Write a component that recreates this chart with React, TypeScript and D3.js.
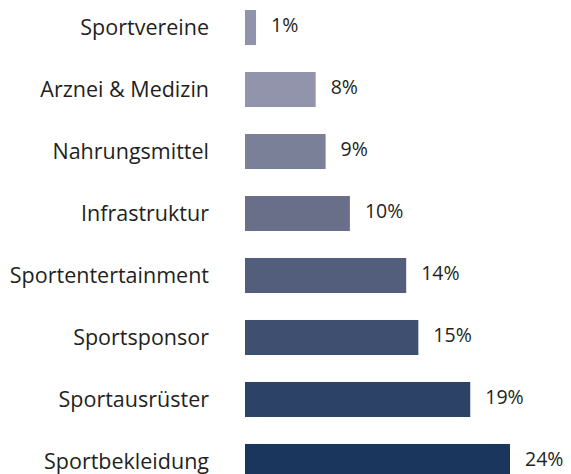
import React from "react";
import * as d3 from "d3";

const categories = [
  "Sportvereine",
  "Arznei & Medizin",
  "Nahrungsmittel",
  "Infrastruktur",
  "Sportentertainment",
  "Sportsponsor",
  "Sportausrüster",
  "Sportbekleidung",
];
// bar lengths as drawn in the picture (share in %)
const barValues = [1.0, 6.4, 7.3, 9.5, 14.6, 15.7, 20.4, 24];
// value labels as printed
const valueLabels = ["1%", "8%", "9%", "10%", "14%", "15%", "19%", "24%"];
const barColors = [
  "#9093ab",
  "#9194aa",
  "#7b8099",
  "#696e89",
  "#535d7c",
  "#3f4f70",
  "#2c4266",
  "#1a365d",
];

const W = 571;
const H = 474;
const FONT = "'Open Sans', 'Noto Sans', sans-serif";
const TEXT = "#231f20";

export default function App() {
  const x = d3.scaleLinear().domain([0, 24]).range([245, 510]);
  const y = d3
    .scaleBand<string>()
    .domain(categories)
    .range([10, 479])
    .paddingInner(0.435)
    .paddingOuter(0);
  const bw = y.bandwidth();

  return (
    <svg
      width={W}
      height={H}
      style={{ position: "absolute", left: 0, top: 0, background: "#fff" }}
    >
      <rect width={W} height={H} fill="#fff" />
      {categories.map((c, i) => {
        const y0 = y(c)!;
        const cy = y0 + bw / 2;
        const x1 = x(barValues[i]);
        return (
          <g key={c}>
            <rect
              x={x(0)}
              y={y0}
              width={x1 - x(0)}
              height={bw}
              fill={barColors[i]}
            />
            <text
              x={209}
              y={cy}
              dy="0.35em"
              textAnchor="end"
              fontFamily={FONT}
              fontSize={21.5}
              fill={TEXT}
            >
              {c}
            </text>
            <text
              x={x1 + 15}
              y={cy - 2}
              dy="0.35em"
              textAnchor="start"
              fontFamily={FONT}
              fontSize={19.5}
              fill={TEXT}
            >
              {valueLabels[i]}
            </text>
          </g>
        );
      })}
    </svg>
  );
}
